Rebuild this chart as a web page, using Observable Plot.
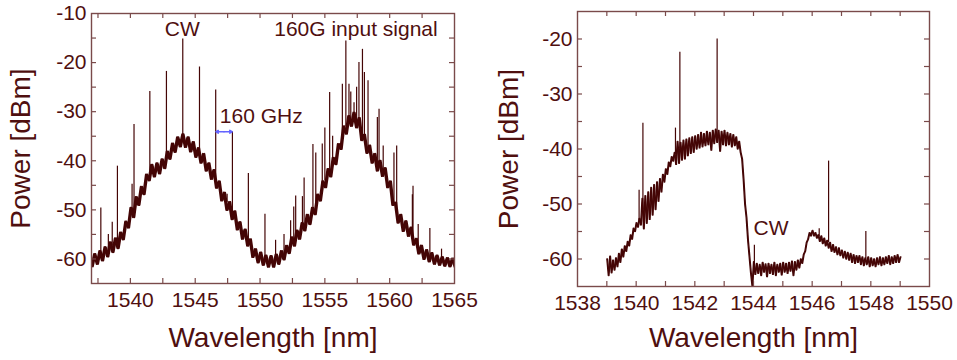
<!DOCTYPE html>
<html><head><meta charset="utf-8">
<script src="https://cdn.jsdelivr.net/npm/d3@7"></script>
<script src="https://cdn.jsdelivr.net/npm/@observablehq/plot@0.6"></script>
<style>
html,body{margin:0;padding:0;background:#fff;}
#wrap{position:relative;width:957px;height:360px;overflow:hidden;}
#left{position:absolute;left:0;top:0;}
#right{position:absolute;left:480px;top:0;}
</style></head><body>
<div id="wrap"><div id="left"></div><div id="right"></div></div>
<script>
// ---------- Left panel: 160G input signal + CW, 0.2 nm grid from 1537 ----------
const leftStart = 1537, leftStep = 0.2;
const leftPower = [
  -61.5, -59.0, -61.0, -58.4, -60.3,   // 1537
  -57.6, -59.5, -56.6, -58.6, -55.8,   // 1538
  -57.8, -54.6, -56.0, -52.4, -53.6,   // 1539
  -49.6, -51.5, -47.4, -49.0, -45.3,   // 1540
  -46.8, -42.8, -44.0, -40.8, -43.2,   // 1541
  -40.5, -42.6, -39.7, -41.5, -38.1,   // 1542
  -39.6, -36.5, -38.2, -35.2, -37.1,   // 1543
  -34.6, -37.2, -35.2, -38.1, -36.2,   // 1544
  -39.2, -37.4, -40.4, -38.6, -42.0,   // 1545
  -40.5, -43.7, -41.9, -45.5, -44.2,   // 1546
  -48.1, -46.5, -50.0, -48.4, -51.9,   // 1547
  -50.3, -54.0, -52.5, -55.9, -54.0,   // 1548
  -57.3, -56.0, -59.6, -58.0, -60.7,   // 1549
  -58.7, -61.2, -59.3, -61.6, -59.4,   // 1550
  -61.6, -59.1, -61.0, -58.4, -60.1,   // 1551
  -57.3, -58.8, -55.6, -57.3, -54.2,   // 1552
  -55.9, -52.7, -54.2, -51.0, -52.9,   // 1553
  -49.6, -50.9, -46.9, -48.1, -44.2,   // 1554
  -45.4, -41.7, -43.2, -39.4, -40.7,   // 1555
  -36.6, -37.6, -33.0, -34.5, -30.9,   // 1556
  -32.9, -30.2, -33.2, -31.3, -35.8,   // 1557
  -34.7, -38.4, -36.9, -40.4, -38.6,   // 1558
  -42.0, -40.0, -43.1, -41.5, -45.4,   // 1559
  -44.2, -49.0, -48.5, -52.6, -51.0,   // 1560
  -54.3, -52.3, -55.3, -53.6, -57.1,   // 1561
  -55.9, -58.9, -57.3, -60.0, -58.2,   // 1562
  -60.5, -58.8, -61.0, -59.3, -61.2,   // 1563
  -59.6, -61.4, -59.8, -61.5, -59.9,   // 1564
  -61.6                                // 1565
];
// spectral lines: [wavelength, foot, peak]
const leftLines = [
  [1537.72, -59.5, -49.6], [1538.3, -58.0, -55.0], [1538.6, -57.3, -52.5], [1539.0, -56.7, -41.1],
  [1540.13, -50.5, -44.8], [1540.28, -50.0, -32.6], [1541.5, -43.0, -25.9], [1542.78, -39.5, -21.8],
  [1544.04, -35.6, -15.2], [1545.33, -38.8, -20.9], [1546.58, -44.0, -25.6], [1547.46, -48.5, -46.8],
  [1547.87, -51.0, -34.1], [1549.1, -56.5, -42.6], [1550.38, -60.3, -50.9],
  [1551.2, -60.0, -56.2], [1551.85, -59.0, -55.0], [1552.36, -57.5, -52.2], [1552.6, -56.3, -49.4],
  [1552.75, -55.4, -47.2], [1553.27, -53.6, -47.3], [1553.4, -53.2, -43.5], [1554.08, -50.5, -36.7],
  [1554.3, -49.5, -38.4], [1554.8, -46.0, -36.6], [1555.0, -44.1, -33.3], [1555.37, -42.6, -26.1],
  [1555.6, -40.7, -35.0], [1556.35, -34.7, -24.4], [1556.62, -33.1, -15.6], [1556.86, -32.3, -24.4],
  [1557.0, -31.5, -26.0], [1557.25, -31.6, -28.2], [1557.45, -32.0, -25.0], [1557.63, -32.7, -20.0],
  [1557.9, -35.0, -17.3], [1558.05, -36.0, -22.0], [1558.33, -37.4, -23.7], [1559.05, -40.7, -31.2],
  [1559.18, -41.0, -29.5], [1559.5, -42.0, -37.0], [1560.33, -48.5, -38.4], [1560.54, -50.0, -37.0],
  [1561.75, -55.5, -46.9], [1561.8, -55.8, -45.2], [1562.2, -57.7, -53.0], [1563.1, -59.5, -53.8],
  [1564.0, -60.5, -58.0]
];
const leftXTicks = [1540, 1545, 1550, 1555, 1560, 1565];
const leftYTicks = [-10, -20, -30, -40, -50, -60];

// ---------- Right panel: converted output, 0.05 nm grid from 1539 ----------
const rightStart = 1539, rightStep = 0.05;
const rightPower = [
  -60.0, -63.0, -59.5, -62.5, -60.2, -62.0, -59.8, -61.4, -59.0, -60.6, -58.2, -59.6, -57.6, -58.6, -56.8, -57.6, -55.6, -56.4, -54.4, -55.0, // 1539
  -53.4, -54.2, -52.6, -53.8, -49.0, -54.5, -48.5, -53.5, -47.8, -52.8, -47.0, -52.0, -46.5, -51.0, -46.0, -49.5, -45.4, -47.8, -44.6, -46.0, // 1540
  -43.6, -44.6, -42.4, -43.2, -41.4, -42.2, -40.6, -42.8, -38.6, -42.6, -38.8, -42.0, -38.4, -41.8, -38.2, -41.2, -38.0, -40.8, -37.8, -40.6, // 1541
  -37.6, -40.0, -37.4, -39.8, -37.0, -39.6, -37.2, -39.4, -36.8, -39.2, -37.0, -40.2, -36.6, -39.0, -36.4, -38.8, -36.6, -40.4, -36.8, -39.2, // 1542
  -36.6, -39.4, -37.0, -39.2, -37.2, -39.6, -37.4, -39.4, -37.8, -40.0, -38.6, -40.6, -41.8, -45.5, -50.0, -52.5, -56.5, -59.5, -62.5, -64.9, // 1543
  -60.5, -62.8, -60.8, -62.6, -61.0, -63.0, -60.6, -62.4, -60.9, -63.2, -60.8, -62.6, -61.0, -62.8, -60.6, -63.0, -61.0, -62.4, -60.8, -62.9, // 1544
  -60.6, -62.4, -60.8, -62.6, -60.6, -62.2, -60.4, -63.0, -60.5, -62.0, -60.2, -61.6, -60.0, -60.8, -59.2, -58.6, -57.0, -56.4, -55.2, -55.8, // 1545
  -54.8, -55.8, -55.2, -56.2, -55.6, -56.8, -55.8, -57.2, -56.2, -57.6, -56.6, -58.0, -57.0, -58.6, -57.4, -58.8, -57.8, -59.2, -58.0, -59.4, // 1546
  -58.4, -59.8, -58.6, -60.0, -58.8, -60.2, -59.0, -60.6, -59.2, -60.8, -59.4, -60.6, -59.4, -61.0, -59.6, -61.2, -59.8, -61.0, -59.6, -61.4, // 1547
  -59.8, -61.2, -60.0, -61.4, -59.8, -61.0, -59.6, -61.2, -59.8, -61.0, -59.6, -60.8, -59.4, -61.0, -59.6, -60.8, -59.4, -60.6, -59.2, -60.6, // 1548
  -59.6                                                                                                                                            // 1549
];
const rightLines = [
  [1540.1, -53.0, -47.5], [1540.23, -51.0, -35.3], [1541.34, -41.0, -36.2], [1541.49, -40.0, -22.4],
  [1542.76, -38.0, -20.0], [1544.03, -61.0, -57.5], [1546.24, -56.0, -54.5], [1546.56, -57.0, -42.2],
  [1547.83, -60.0, -55.0]
];
const rightXTicks = [1538, 1540, 1542, 1544, 1546, 1548, 1550];
const rightYTicks = [-20, -30, -40, -50, -60];

// ---------- styling ----------
const ink = "#440505", txt = "#4f0f0f", frameColor = "#7a4a4a", blue = "#6464ff";
const font = "'Liberation Sans', Arial, Helvetica, sans-serif";

function series(start, step, vals) {
  return vals.map((v, i) => ({x: +(start + i * step).toFixed(3), y: v}));
}

function panel({W, H, mL, mR, mT, mB, xDom, yDom, xMaj, xMin, yMaj, yMin, data, lines, extra, lineWidth, shift}) {
  const iw = W - mL - mR, ih = H - mT - mB, t = 5;
  return Plot.plot({
    width: W, height: H,
    marginLeft: mL, marginRight: mR, marginTop: mT, marginBottom: mB,
    x: {domain: xDom},
    y: {domain: yDom},
    style: {fontFamily: font, color: txt, background: "white", overflow: "visible"},
    marks: [
      Plot.line(data, {x: "x", y: "y", stroke: ink, strokeWidth: lineWidth, clip: true}),
      Plot.line(data, {x: "x", y: "y", dx: shift, stroke: ink, strokeWidth: lineWidth, clip: true}),
      Plot.ruleX(lines, {x: d => d[0], y1: d => d[1], y2: d => d[2], stroke: ink, strokeWidth: 1.2, clip: true}),
      // inward ticks on all four sides
      Plot.tickX(xMin, {x: d => d, insetTop: ih - t, stroke: frameColor, strokeWidth: 1.2}),
      Plot.tickX(xMin, {x: d => d, insetBottom: ih - t, stroke: frameColor, strokeWidth: 1.2}),
      Plot.tickY(yMin, {y: d => d, insetRight: iw - t, stroke: frameColor, strokeWidth: 1.2}),
      Plot.tickY(yMin, {y: d => d, insetLeft: iw - t, stroke: frameColor, strokeWidth: 1.2}),
      Plot.axisX(xMaj, {anchor: "bottom", label: null, tickSize: 0, tickPadding: 9, fontSize: 21, tickFormat: d => String(d)}),
      Plot.axisY(yMaj, {anchor: "left", label: null, tickSize: 0, tickPadding: 5, fontSize: 21, tickFormat: d => String(d)}),
      Plot.frame({stroke: frameColor, strokeWidth: 1.4}),
      ...extra
    ]
  });
}

const leftExtra = [
  Plot.text(["Wavelength [nm]"], {frameAnchor: "bottom", lineAnchor: "middle", dy: 55, fontSize: 28, fill: txt}),
  Plot.text(["Power [dBm]"], {frameAnchor: "left", textAnchor: "middle", rotate: -90, dx: -70, fontSize: 28, fill: txt}),
  Plot.text([{x: 1544.0, y: -13.2, t: "CW"}], {x: "x", y: "y", text: "t", fontSize: 21, fill: txt}),
  Plot.text([{x: 1557.4, y: -13.2, t: "160G input signal"}], {x: "x", y: "y", text: "t", fontSize: 21, fill: txt}),
  Plot.text([{x: 1546.9, y: -31.0, t: "160 GHz"}], {x: "x", y: "y", text: "t", textAnchor: "start", fontSize: 21, fill: txt}),
  Plot.arrow([{x1: 1547.22, x2: 1546.6, y: -34.1}, {x1: 1547.22, x2: 1547.85, y: -34.1}],
    {x1: "x1", x2: "x2", y1: "y", y2: "y", stroke: blue, strokeWidth: 1.6, headLength: 6, bend: 0})
];
const rightExtra = [
  Plot.text(["Wavelength [nm]"], {frameAnchor: "bottom", lineAnchor: "middle", dy: 52, fontSize: 28, fill: txt}),
  Plot.text(["Power [dBm]"], {frameAnchor: "left", textAnchor: "middle", rotate: -90, dx: -68, fontSize: 28, fill: txt}),
  Plot.text([{x: 1544.6, y: -54.5, t: "CW"}], {x: "x", y: "y", text: "t", fontSize: 21, fill: txt})
];

document.getElementById("left").appendChild(panel({
  W: 480, H: 360, mL: 91, mR: 26, mT: 13, mB: 77,
  xDom: [1537, 1565], yDom: [-65, -10],
  xMaj: leftXTicks, xMin: [1537.5, 1540, 1542.5, 1545, 1547.5, 1550, 1552.5, 1555, 1557.5, 1560, 1562.5],
  yMaj: leftYTicks, yMin: [-15, -20, -25, -30, -35, -40, -45, -50, -55, -60],
  data: series(leftStart, leftStep, leftPower), lines: leftLines, extra: leftExtra, lineWidth: 2.1, shift: 1.3
}));
document.getElementById("right").appendChild(panel({
  W: 477, H: 360, mL: 97, mR: 28, mT: 11, mB: 74,
  xDom: [1538, 1550], yDom: [-65, -15],
  xMaj: rightXTicks, xMin: [1539, 1540, 1541, 1542, 1543, 1544, 1545, 1546, 1547, 1548, 1549],
  yMaj: rightYTicks, yMin: [-20, -25, -30, -35, -40, -45, -50, -55, -60],
  data: series(rightStart, rightStep, rightPower), lines: rightLines, extra: rightExtra, lineWidth: 1.3, shift: 0.7
}));
</script>
</body></html>
